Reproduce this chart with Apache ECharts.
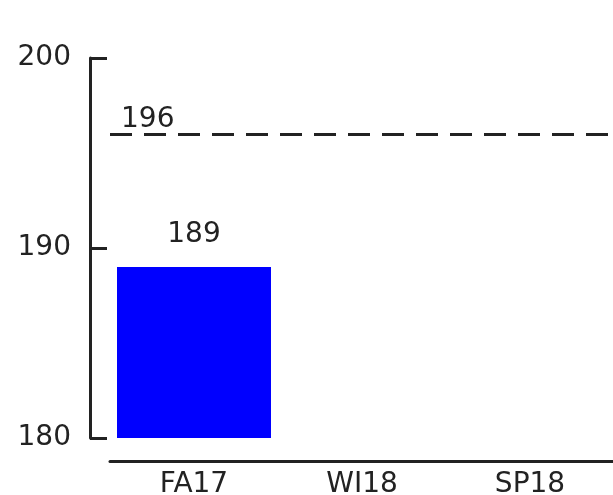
<!DOCTYPE html>
<html>
<head>
<meta charset="utf-8">
<script src="https://cdn.jsdelivr.net/npm/echarts@6/dist/echarts.min.js"></script>
<style>
  html, body { margin: 0; padding: 0; background: #fff; }
  #chart { width: 613px; height: 495px; }
</style>
</head>
<body>
<div id="chart"></div>
<script>
// Term totals against the target line
const terms = ['FA17', 'WI18', 'SP18'];
const totals = [189, null, null];
const target = 196;
const yTicks = { min: 180, max: 200, step: 10 };

const FONT = 'DejaVu Sans';
const INK = '#222';
const SIZE = 28;

const chart = echarts.init(document.getElementById('chart'), null, { renderer: 'canvas' });

chart.setOption({
  animation: false,
  backgroundColor: '#fff',
  grid: { left: 110, right: -1, top: 58, bottom: 57, containLabel: false, outerBoundsMode: 'none' },
  xAxis: {
    type: 'category',
    data: terms,
    offset: 23,
    axisLine: { lineStyle: { color: INK, width: 3 } },
    axisTick: { show: false },
    axisLabel: { color: INK, fontFamily: FONT, fontSize: SIZE, margin: 10 }
  },
  yAxis: {
    type: 'value',
    min: yTicks.min,
    max: yTicks.max,
    interval: yTicks.step,
    offset: 20,
    splitLine: { show: false },
    axisLine: { show: true, lineStyle: { color: INK, width: 3 } },
    axisTick: { show: true, inside: true, length: 17, lineStyle: { color: INK, width: 3 } },
    axisLabel: { color: INK, fontFamily: FONT, fontSize: SIZE, margin: 19, padding: [6, 0, 0, 0] }
  },
  series: [{
    type: 'bar',
    data: totals,
    barWidth: 154,
    itemStyle: { color: '#0000ff' },
    label: {
      show: true,
      position: 'top',
      distance: 18,
      color: INK,
      fontFamily: FONT,
      fontSize: SIZE
    },
    markLine: {
      symbol: 'none',
      silent: true,
      lineStyle: { color: INK, width: 3, type: [22, 12] },
      label: {
        show: true,
        position: 'insideStartTop',
        formatter: '{c}',
        color: INK,
        fontFamily: FONT,
        fontSize: SIZE,
        distance: [11, 0]
      },
      data: [{ yAxis: target }]
    }
  }]
});
</script>
</body>
</html>
